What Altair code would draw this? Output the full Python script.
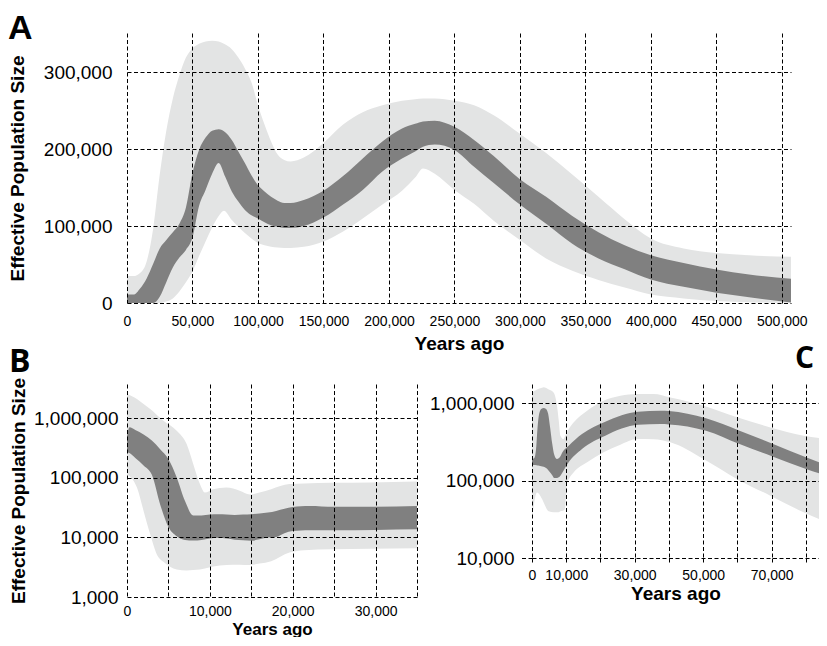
import altair as alt
import pandas as pd

# ---------------- Panel A (linear) : years ago in thousands, sizes in thousands ----------------
A_light_x = [0, 5, 10, 15, 20, 25, 30, 35, 40, 45, 50, 55, 60, 65, 70, 74, 80, 85, 90, 95,
             100, 105, 110, 115, 120, 125, 135, 150, 165, 180, 195, 210, 220, 226, 235, 250,
             265, 280, 300, 320, 340, 360, 380, 400, 425, 450, 475, 507]
A_light_hi = [35, 35, 39, 54, 97, 167, 224, 266, 296, 319, 331, 337, 340, 341, 340, 337, 330, 319, 305, 287,
              257, 232, 210, 193, 186, 184, 189, 208, 232, 248, 257, 263, 265, 266, 266, 263,
              257, 244, 220, 195, 167, 138, 109, 84, 71, 65, 62, 60]
A_light_lo = [0, 0, 0, 0, 0, 0, 2, 6, 15, 27, 41, 61, 80, 98, 113, 120, 108, 99, 91, 84,
              78, 75, 73, 72, 71.5, 71.5, 73, 80, 93, 110, 128, 146, 163, 175, 168, 147,
              129, 107, 82, 58, 42, 30, 20, 11, 6, 2.5, 1, 0.4]

A_dark_x = [0, 5, 10, 15, 20, 25, 30, 35, 40, 45, 50, 55, 60, 65, 70, 75, 80, 85, 90, 95,
            100, 105, 110, 115, 120, 125, 135, 150, 165, 180, 195, 210, 220, 226, 235, 250,
            265, 280, 300, 320, 340, 360, 380, 400, 425, 450, 475, 507]
A_dark_hi = [11, 11, 19, 32, 51, 71, 82, 92, 103, 124, 169, 199, 215, 224, 226, 222, 212, 197, 182, 166,
             153, 145, 138, 133, 130, 130, 134, 146, 165, 188, 210, 227, 233, 236, 237, 229,
             212, 191, 161, 138, 113, 92, 75, 62, 52, 43.5, 37, 31.6]
A_dark_lo = [0, 0, 0, 0, 0, 8, 27, 46, 59, 69, 85, 126, 147, 168, 182, 164, 145, 132, 121, 114,
             110, 105, 101, 99, 97.5, 97.5, 100, 111, 128, 147, 171, 188, 197, 203, 206, 199,
             177, 156, 128, 103, 77, 58, 44, 30.5, 21, 13.4, 7.5, 0.5]

# ---------------- Panel B (log) ----------------
B_light_x = [0, 1.2, 2, 2.8, 3.6, 4.4, 6, 7.2, 8, 8.8, 9.4, 10.4, 12, 13.6, 14.8, 16, 17.4,
             19.6, 21.4, 24.7, 29.4, 35]
B_light_hi = [2580000, 2120000, 1750000, 1440000, 1150000, 918000, 624000, 371000, 171000, 79000,
              57000, 65000, 69000, 61000, 53000, 57000, 65000, 79000, 81000, 83000, 84000, 87500]
B_light_lo = [116000, 69000, 28000, 11300, 5200, 3900, 2900, 2800, 2850, 2900, 3000, 3250, 3450,
              3500, 3460, 3640, 4000, 5570, 6100, 6340, 6500, 6600]

B_dark_x = [0, 0.3, 1, 2, 3, 4, 5, 6, 7, 8, 9, 10, 11, 12, 13, 14, 15, 16, 17, 18, 19, 20, 21,
            22, 25, 30, 35]
B_dark_hi = [500000, 710000, 640000, 540000, 425000, 305000, 208000, 102000, 41000, 23500, 23500,
             24300, 24600, 24300, 24000, 24300, 24600, 25300, 26300, 28000, 30500, 32500, 33600,
             34000, 33000, 33000, 34000]
B_dark_lo = [270000, 262000, 217000, 162000, 113000, 36000, 15000, 10500, 9100, 8900, 9100, 9600,
             9900, 9600, 9200, 9000, 8800, 9300, 10000, 10200, 11800, 12800, 13100, 13200, 13200,
             13400, 13700]

# ---------------- Panel C (log) ----------------
C_light_x = [0, 1.46, 2.9, 3.4, 4.9, 6.3, 7.3, 7.8, 8.3, 9.2, 9.6, 10.3, 10.7, 12.2, 16.1, 20.9,
             25.8, 30.7, 35.5, 40.4, 50.1, 59.9, 69.6, 79.3, 86.1]
C_light_hi = [1370000, 1500000, 1580000, 1600000, 1500000, 1370000, 923000, 600000, 379000, 343000,
              370000, 430000, 460000, 563000, 795000, 1070000, 1240000, 1310000, 1310000, 1180000,
              923000, 654000, 485000, 379000, 343000]
C_light_lo = [32000, 70000, 58000, 52000, 40000, 39000, 39000, 39000, 40000, 41000, 42800, 95000,
              104000, 128000, 172000, 231000, 290000, 343000, 340000, 311000, 189000, 104000,
              63700, 38900, 28800]

C_dark_x = [0, 0.7, 1.2, 1.6, 2.1, 2.7, 3.4, 4.1, 4.7, 5.3, 5.9, 6.5, 7.3, 8.3, 8.76, 10.7, 14.6,
            21.4, 31, 37.5, 40, 50.8, 60.6, 70.4, 80, 86.1]
C_dark_hi = [189000, 195000, 260000, 470000, 730000, 840000, 865000, 840000, 730000, 480000,
             300000, 215000, 189000, 205000, 226000, 281000, 398000, 574000, 773000, 795000,
             787000, 634000, 440000, 296000, 199000, 158000]
C_dark_lo = [158000, 158000, 157000, 156000, 155000, 153000, 150000, 145000, 137000, 127000,
             117000, 108000, 108000, 115000, 124000, 172000, 255000, 379000, 524000, 536000,
             530000, 440000, 296000, 203000, 141000, 115000]

FONT = "Liberation Sans"
LETTER_FONT = "Open Sans"
LIGHT = "#e3e4e4"
DARK = "#808080"
DASH = [4, 2.5]


def frame(lx, llo, lhi, dx, dlo, dhi, scale=1.0):
    rows = []
    for x, lo, hi in zip(lx, llo, lhi):
        rows.append({"kind": "light", "x": x * 1000, "lo": lo * scale, "hi": hi * scale})
    for x, lo, hi in zip(dx, dlo, dhi):
        rows.append({"kind": "dark", "x": x * 1000, "lo": lo * scale, "hi": hi * scale})
    return pd.DataFrame(rows)


def grid_axis(**kw):
    base = dict(grid=True, gridColor="#000", gridDash=DASH, gridWidth=1, domain=False,
                ticks=False, zindex=1, format=",.0f", labelFont=FONT, titleFont=FONT,
                labelColor="#000", titleColor="#000", labelFlush=False, labelOverlap=False,
                titleFontSize=19, titleFontWeight="bold")
    base.update(kw)
    return alt.Axis(**base)


def panel(df, xscale, yscale, xaxis, yaxis, w, h, letter, lx, ly, lfont, lsize):
    base = alt.Chart(df).encode(
        x=alt.X("x:Q", scale=xscale, axis=xaxis),
        y=alt.Y("lo:Q", scale=yscale, axis=yaxis),
        y2="hi:Q",
    )
    light = base.transform_filter(alt.datum.kind == "light").mark_area(
        color=LIGHT, interpolate="monotone", clip=True)
    dark = base.transform_filter(alt.datum.kind == "dark").mark_area(
        color=DARK, interpolate="monotone", clip=True)
    lab = alt.Chart(pd.DataFrame({"t": [letter]})).mark_text(
        align="left", baseline="alphabetic", font=lfont, fontSize=lsize, fontWeight="bold",
        color="#000").encode(text="t:N", x=alt.value(lx), y=alt.value(ly))
    return alt.layer(light, dark, lab).properties(width=w, height=h)


dfA = frame(A_light_x, A_light_lo, A_light_hi, A_dark_x, A_dark_lo, A_dark_hi, scale=1000)
dfB = frame(B_light_x, B_light_lo, B_light_hi, B_dark_x, B_dark_lo, B_dark_hi)
dfC = frame(C_light_x, C_light_lo, C_light_hi, C_dark_x, C_dark_lo, C_dark_hi)

A = panel(
    dfA,
    alt.Scale(domain=[0, 507000], nice=False, zero=False),
    alt.Scale(domain=[0, 351000], nice=False),
    grid_axis(values=list(range(0, 500001, 50000)), title="Years ago", labelFontSize=14,
              labelPadding=11, titlePadding=6),
    grid_axis(values=[0, 100000, 200000, 300000], title="Effective Population Size",
              labelFontSize=19, labelPadding=15, titlePadding=16),
    664, 270, "A", -119, 6, FONT, 34,
)

B = panel(
    dfB,
    alt.Scale(domain=[0, 35000], nice=False, zero=False),
    alt.Scale(type="log", domain=[1000, 3800000], nice=False),
    grid_axis(values=list(range(0, 35001, 5000)), title="Years ago", labelFontSize=14,
              labelPadding=7, titlePadding=3, titleFontSize=17,
              labelExpr="datum.value % 10000 == 0 ? datum.label : ''"),
    grid_axis(values=[1000, 10000, 100000, 1000000], title="Effective Population Size",
              labelFontSize=19, labelPadding=9, titlePadding=5),
    290, 213, "B", -118, -12, LETTER_FONT, 32,
)

C = panel(
    dfC,
    alt.Scale(domain=[0, 83800], nice=False, zero=False),
    alt.Scale(type="log", domain=[10000, 1760000], nice=False),
    grid_axis(values=list(range(0, 80001, 10000)), title="Years ago", labelFontSize=14,
              ticks=True, tickSize=6, tickDash=DASH, tickColor="#000", labelPadding=4,
              titlePadding=2,
              labelExpr="(datum.value == 0 || datum.value % 20000 == 10000) ? datum.label : ''"),
    grid_axis(values=[10000, 100000, 1000000], title=None, labelFontSize=19, ticks=True,
              tickSize=12, tickDash=DASH, tickColor="#000", labelPadding=6),
    287, 174, "C", 263, -16, LETTER_FONT, 30,
)

chart = alt.vconcat(
    A,
    alt.hconcat(B, C, spacing=115, bounds="flush"),
    spacing=81,
    bounds="flush",
).properties(padding={"top": 4, "left": 0, "right": 0, "bottom": 0}).configure_view(stroke=None)

chart.save("out.html", embed_options={"renderer": "svg", "actions": False})
